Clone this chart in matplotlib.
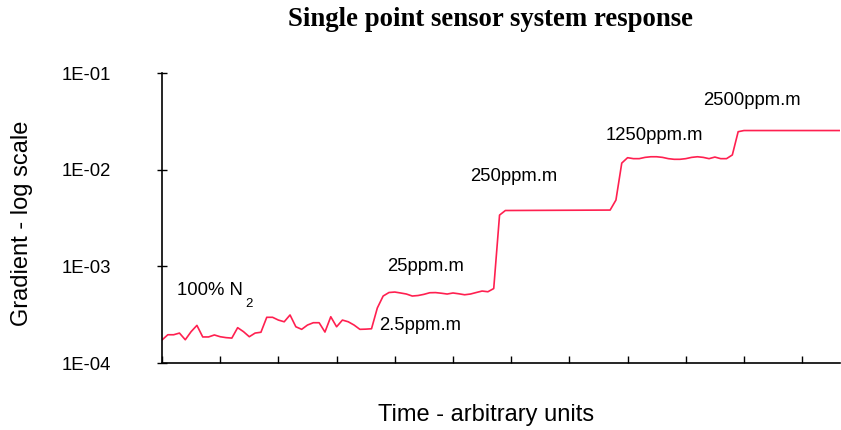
import numpy as np
import matplotlib.pyplot as plt

# tiempo (unidades arbitrarias, 1 division = 1)
t = [0.0, 0.1, 0.2, 0.3, 0.4, 0.5, 0.6, 0.7, 0.8, 0.9,
     1.0, 1.1, 1.2, 1.3, 1.4, 1.5, 1.6, 1.7, 1.8, 1.9,
     2.0, 2.1, 2.2, 2.3, 2.4, 2.5, 2.6, 2.7, 2.8, 2.9,
     3.0, 3.1, 3.2, 3.3, 3.4, 3.5, 3.6, 3.7, 3.8, 3.9,
     4.0, 4.1, 4.2, 4.3, 4.4, 4.5, 4.6, 4.7, 4.8, 4.9,
     5.0, 5.1, 5.2, 5.3, 5.4, 5.5, 5.6, 5.7, 5.8, 5.9,
     7.7, 7.8, 7.9, 8.0, 8.1, 8.2, 8.3, 8.4, 8.5, 8.6,
     8.7, 8.8, 8.9, 9.0, 9.1, 9.2, 9.3, 9.4, 9.5, 9.6,
     9.7, 9.8, 9.9, 10.0, 11.7]

gradiente = [1.73e-4, 1.96e-4, 1.96e-4, 2.04e-4, 1.74e-4, 2.11e-4, 2.45e-4, 1.86e-4, 1.86e-4, 1.95e-4,
             1.87e-4, 1.83e-4, 1.81e-4, 2.32e-4, 2.11e-4, 1.87e-4, 2.04e-4, 2.08e-4, 2.97e-4, 2.97e-4,
             2.78e-4, 2.67e-4, 3.14e-4, 2.37e-4, 2.23e-4, 2.47e-4, 2.61e-4, 2.61e-4, 2.09e-4, 3.01e-4,
             2.37e-4, 2.78e-4, 2.67e-4, 2.47e-4, 2.23e-4, 2.24e-4, 2.26e-4, 3.71e-4, 4.93e-4, 5.36e-4,
             5.42e-4, 5.30e-4, 5.17e-4, 4.93e-4, 4.99e-4, 5.13e-4, 5.33e-4, 5.35e-4, 5.27e-4, 5.17e-4,
             5.30e-4, 5.20e-4, 5.08e-4, 5.17e-4, 5.36e-4, 5.55e-4, 5.46e-4, 5.89e-4, 3.39e-3, 3.78e-3,
             3.82e-3, 4.85e-3, 1.17e-2, 1.33e-2, 1.30e-2, 1.30e-2, 1.34e-2, 1.36e-2, 1.36e-2, 1.34e-2,
             1.30e-2, 1.28e-2, 1.28e-2, 1.30e-2, 1.34e-2, 1.36e-2, 1.34e-2, 1.30e-2, 1.35e-2, 1.30e-2,
             1.30e-2, 1.42e-2, 2.47e-2, 2.54e-2, 2.54e-2]

# Etiquetas de concentracion (texto, t, valor)
etiquetas = ["2500ppm.m", "1250ppm.m", "250ppm.m", "25ppm.m", "2.5ppm.m", "100% N"]
etiq_t = [9.3, 7.63, 5.29, 3.87, 3.73, 0.26]
etiq_v = [5.25e-2, 2.28e-2, 8.4e-3, 1.0e-3, 2.47e-4, 5.56e-4]

yticks = [1e-4, 1e-3, 1e-2, 1e-1]
ytick_labels = ["1E-04", "1E-03", "1E-02", "1E-01"]

fig = plt.figure(figsize=(8.41, 4.30), dpi=100)
ax = fig.add_axes([162/841, 1 - 363/430, 678/841, 290/430])

ax.plot(t, gradiente, color='#FF2050', linewidth=1.2)

ax.set_yscale('log')
ax.set_ylim(1e-4, 1e-1)
ax.set_xlim(0, 11.65)
ax.set_yticks(yticks)
ax.set_yticklabels(ytick_labels, fontfamily='Liberation Sans', fontsize=13.3)
ax.yaxis.set_minor_locator(plt.NullLocator())
ax.set_xticks(np.arange(0, 12))
ax.set_xticklabels([])
ax.tick_params(axis='y', direction='inout', length=7, width=1, pad=33)
ax.tick_params(axis='x', direction='in', length=5, width=1)
for s in ['top', 'right']:
    ax.spines[s].set_visible(False)
for s in ['left', 'bottom']:
    ax.spines[s].set_linewidth(1.2)

for txt, tx, ty in zip(etiquetas, etiq_t, etiq_v):
    ax.text(tx, ty, txt, fontfamily='Liberation Sans', fontsize=13.3, ha='left', va='center')
# subindice de N2
ax.text(1.44, 4.07e-4, "2", fontfamily='Liberation Sans', fontsize=9.5, ha='left', va='center')

fig.text(491/841, 1 - 20/430, "Single point sensor system response", fontfamily='Liberation Serif',
         fontweight='bold', fontsize=19.3, ha='center', va='center')
fig.text(22/841, 1 - 223/430, "Gradient - log scale", fontfamily='Liberation Sans', fontsize=17,
         rotation=90, ha='center', va='center')
fig.text(486/841, 1 - 415/430, "Time - arbitrary units", fontfamily='Liberation Sans', fontsize=17,
         ha='center', va='center')

fig.savefig('out.png', dpi=100)
